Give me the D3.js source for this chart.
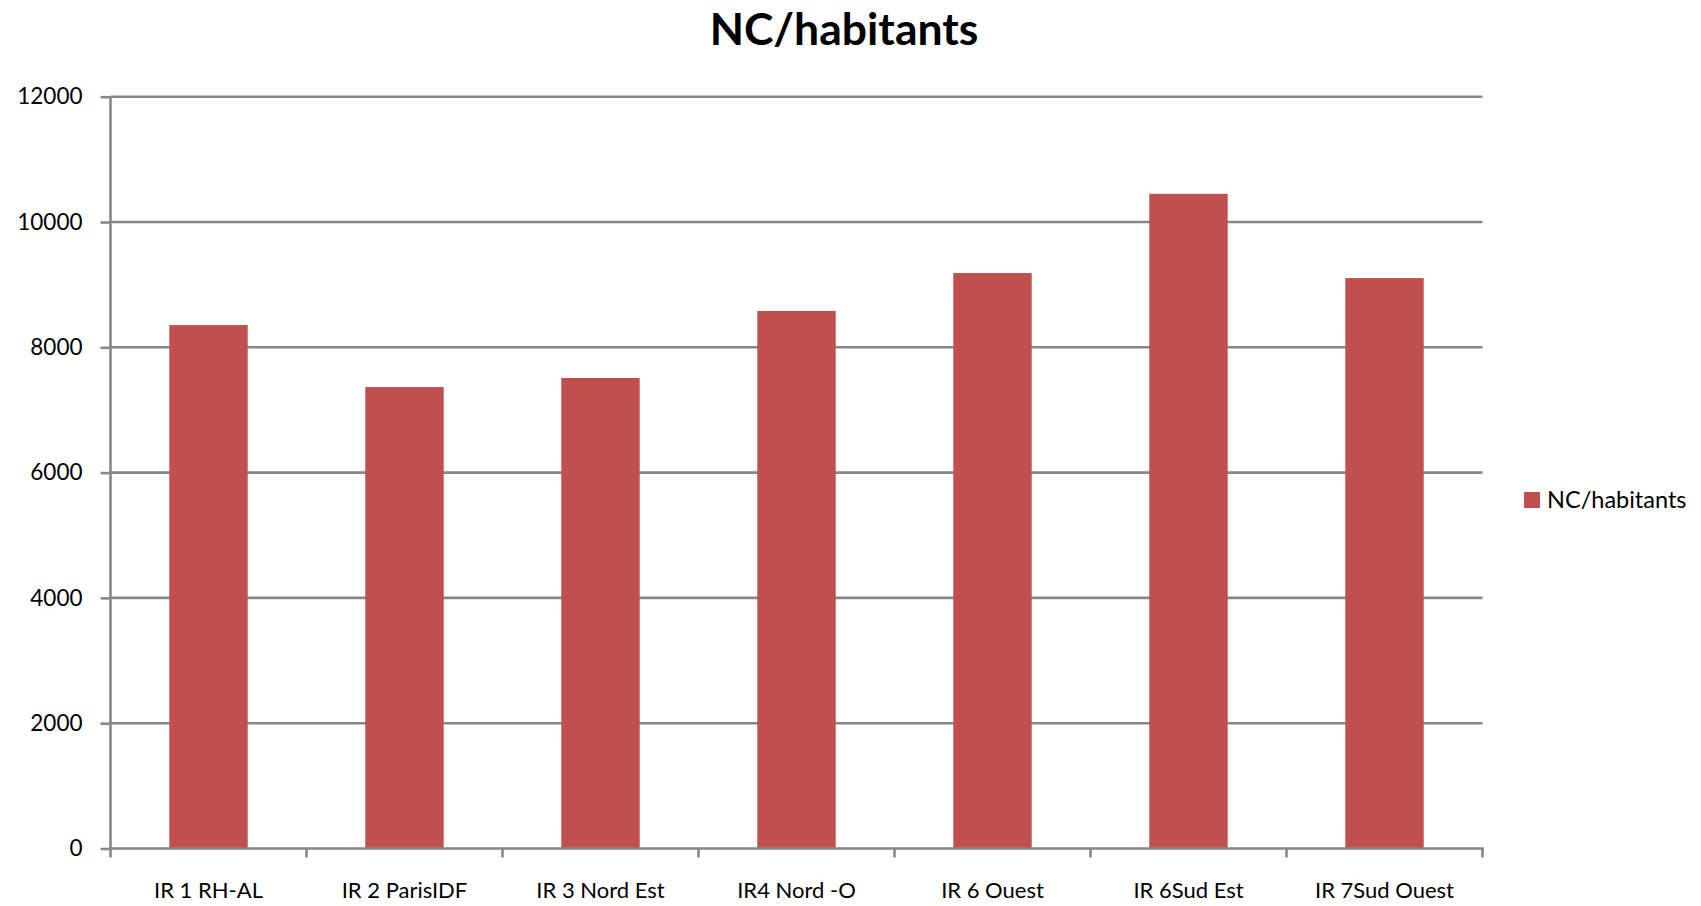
<!DOCTYPE html>
<html>
<head>
<meta charset="utf-8">
<script src="https://cdn.jsdelivr.net/npm/d3@7/dist/d3.min.js"></script>
<style>
  html, body { margin: 0; padding: 0; background: #ffffff; }
  svg { display: block; }
  text { font-family: Lato, "Open Sans", "Liberation Sans", sans-serif; fill: #000; }
</style>
</head>
<body>
<svg id="chart" width="1701" height="906"></svg>
<script>
// Data
const categories = ["IR 1 RH-AL", "IR 2 ParisIDF", "IR 3 Nord Est", "IR4 Nord -O", "IR 6 Ouest", "IR 6Sud Est", "IR 7Sud Ouest"];
const values = [8355, 7365, 7510, 8580, 9185, 10450, 9105];
const yTicks = [0, 2000, 4000, 6000, 8000, 10000, 12000];
const seriesName = "NC/habitants";
const chartTitle = "NC/habitants";

const svg = d3.select("#chart");
const plot = { left: 110.5, right: 1482.5, top: 96.7, bottom: 848.5 };
const gridColor = "#878787";
const barColor = "#C0504D";

const x = d3.scaleBand().domain(categories).range([plot.left, plot.right])
  .paddingInner(0.6).paddingOuter(0.3);
const y = d3.scaleLinear().domain([0, 12000]).range([plot.bottom, plot.top]);

// Horizontal gridlines
svg.append("g").selectAll("line").data(yTicks.filter(d => d > 0)).join("line")
  .attr("x1", plot.left).attr("x2", plot.right)
  .attr("y1", d => y(d)).attr("y2", d => y(d))
  .attr("stroke", gridColor).attr("stroke-width", 2.6);

// Bars
svg.append("g").selectAll("rect").data(values).join("rect")
  .attr("x", (d, i) => x(categories[i]))
  .attr("width", x.bandwidth())
  .attr("y", d => y(d))
  .attr("height", d => y(0) - y(d))
  .attr("fill", barColor);

// Y axis
const yAxis = svg.append("g").attr("transform", `translate(${plot.left},0)`)
  .call(d3.axisLeft(y).tickValues(yTicks).tickSize(10).tickPadding(18).tickFormat(d3.format("d")));
yAxis.select(".domain").attr("stroke", gridColor).attr("stroke-width", 2.6)
  .attr("d", `M0,${plot.top}V${plot.bottom}`);
yAxis.selectAll(".tick line").attr("stroke", gridColor).attr("stroke-width", 2.6);
yAxis.selectAll(".tick text").style("font-size", "22.5px").attr("fill", "#000");

// X axis: baseline with ticks at category boundaries
const xAxisG = svg.append("g").attr("transform", `translate(0,${plot.bottom})`);
xAxisG.append("line").attr("x1", plot.left - 1.3).attr("x2", plot.right + 1.3)
  .attr("stroke", gridColor).attr("stroke-width", 2.6);
const boundary = i => plot.left + i * x.step() - (i === 0 ? 0 : 0);
xAxisG.selectAll("line.tk").data(d3.range(categories.length + 1)).join("line")
  .attr("class", "tk")
  .attr("x1", boundary).attr("x2", boundary)
  .attr("y1", 0).attr("y2", 9)
  .attr("stroke", gridColor).attr("stroke-width", 2.6);
xAxisG.selectAll("text").data(categories).join("text")
  .attr("x", d => x(d) + x.bandwidth() / 2)
  .attr("y", 49)
  .attr("text-anchor", "middle")
  .style("font-size", "22px")
  .text(d => d);

// Title
svg.append("text").attr("x", 844).attr("y", 45)
  .attr("text-anchor", "middle")
  .style("font-size", "44.5px").style("font-weight", "bold")
  .text(chartTitle);

// Legend
const legend = svg.append("g").attr("transform", "translate(1524,492)");
legend.append("rect").attr("width", 16).attr("height", 16).attr("fill", barColor);
legend.append("text").attr("x", 23).attr("y", 16).style("font-size", "23.5px").text(seriesName);
</script>
</body>
</html>
